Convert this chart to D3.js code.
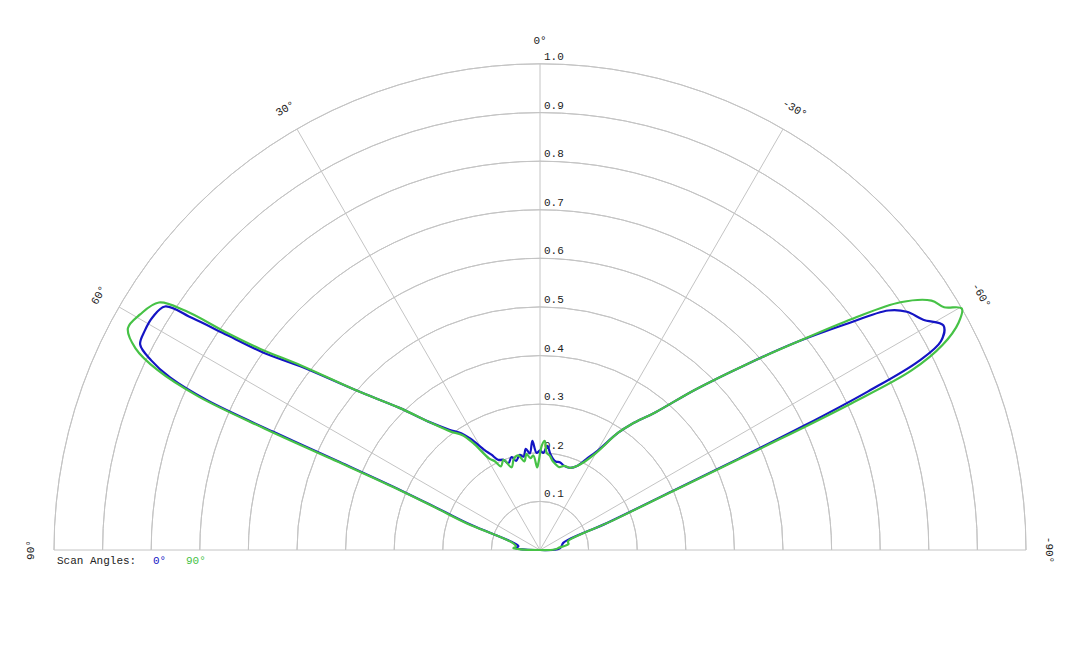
<!DOCTYPE html>
<html>
<head>
<meta charset="utf-8">
<script src="https://cdn.jsdelivr.net/npm/d3@7"></script>
<style>
  body { margin: 0; background: #fff; }
  text { font-family: "Liberation Mono", "DejaVu Sans Mono", monospace; font-size: 11px; fill: #222; }
</style>
</head>
<body>
<svg id="chart" width="1080" height="648"></svg>
<script>
// angles in degrees (0 = up, positive = left), radius 0..1
const ringValues = [0.1, 0.2, 0.3, 0.4, 0.5, 0.6, 0.7, 0.8, 0.9, 1.0];
const spokeAngles = [90, 60, 30, 0, -30, -60, -90];
const seriesNames = ['0°', '90°'];
const seriesColors = ['#1414c4', '#46c246'];

const blueAngles = [90,88,86,80,74,70,68,66.8,66.3,66.1,65.8,65,64,62.8,61,59,57,56.3,55.5,54.5,52.5,49,44.6,41,37,34,32,29,27,25,22,20,17,15,12,10,8,6,4,2,0,-2,-4,-6,-8,-10,-13,-16,-20,-24,-27,-30,-33.7,-36,-40,-44.1,-48,-51,-53.5,-55.5,-57,-59,-60.9,-62.5,-63.5,-64.2,-64.8,-65.3,-66,-68,-73,-80,-86,-89,-90];
const blueValues = [0,0.03,0.05,0.045,0.06,0.15,0.22,0.31,0.45,0.6,0.75,0.84,0.89,0.925,0.93,0.93,0.92,0.86,0.78,0.7,0.62,0.5,0.41,0.35,0.31,0.29,0.27,0.235,0.22,0.205,0.2,0.19,0.2,0.19,0.2,0.195,0.21,0.2,0.225,0.2,0.205,0.2,0.215,0.2,0.19,0.185,0.185,0.18,0.18,0.19,0.21,0.235,0.29,0.32,0.37,0.46,0.57,0.68,0.78,0.87,0.9,0.92,0.95,0.93,0.87,0.75,0.6,0.45,0.3,0.15,0.05,0.045,0.04,0.03,0];

const greenAngles = [90,88,86,82,75,70,68,66.8,66.4,66.2,65.8,64.8,63.5,61.7,59.5,57,56,55.3,54.3,52.3,49,44.6,41,37,34,32,29,27,25,22,19,16,13,10,8,6,4,2,1,-1,-2.5,-4,-6,-8,-10,-13,-16,-20,-24,-27,-30,-33.7,-36,-40,-44.1,-48,-51,-53.5,-55.5,-57.5,-59,-60.2,-61.5,-63,-64.2,-64.8,-65.3,-66,-68,-73,-78,-83,-88,-90];
const greenValues = [0,0.04,0.055,0.05,0.06,0.16,0.23,0.33,0.47,0.62,0.77,0.87,0.93,0.963,0.955,0.935,0.88,0.79,0.71,0.62,0.5,0.41,0.35,0.305,0.285,0.26,0.215,0.205,0.19,0.2,0.18,0.195,0.2,0.185,0.2,0.19,0.195,0.17,0.18,0.215,0.225,0.2,0.195,0.185,0.18,0.175,0.18,0.18,0.19,0.205,0.23,0.29,0.32,0.37,0.46,0.57,0.68,0.8,0.9,0.955,0.97,1.0,0.98,0.93,0.85,0.7,0.5,0.32,0.16,0.06,0.06,0.04,0.03,0];

const cx = 540, cy = 550, R = 486;
const svg = d3.select('#chart');
const r = d3.scaleLinear().domain([0, 1]).range([0, R]);
const toRad = a => -a * Math.PI / 180;
const g = svg.append('g').attr('transform', `translate(${cx},${cy})`);

// rings
const arc = d3.arc().innerRadius(d => r(d)).outerRadius(d => r(d))
    .startAngle(-Math.PI / 2).endAngle(Math.PI / 2);
g.selectAll('.ring').data(ringValues).enter().append('path')
    .attr('d', arc).attr('fill', 'none').attr('stroke', '#c4c4c4').attr('stroke-width', 1);

// spokes
g.selectAll('.spoke').data(spokeAngles).enter().append('line')
    .attr('x1', 0).attr('y1', 0)
    .attr('x2', d => r(1) * Math.sin(toRad(d)))
    .attr('y2', d => -r(1) * Math.cos(toRad(d)))
    .attr('stroke', '#c4c4c4').attr('stroke-width', 1);

// ring labels
g.selectAll('.rlab').data(ringValues).enter().append('text')
    .attr('x', 4).attr('y', d => -r(d) - 4)
    .text(d => d.toFixed(1));

// angle labels
g.selectAll('.alab').data(spokeAngles).enter().append('text')
    .attr('text-anchor', 'middle')
    .attr('transform', d => {
        const rr = r(1) + 24, a = toRad(d);
        return `translate(${rr * Math.sin(a)},${-rr * Math.cos(a)}) rotate(${-d})`;
    })
    .attr('dy', '0.35em')
    .text(d => d + '°');

// curves
const line = d3.lineRadial().angle(d => toRad(d[0])).radius(d => r(d[1])).curve(d3.curveCatmullRom);
const series = [d3.zip(blueAngles, blueValues), d3.zip(greenAngles, greenValues)];
g.selectAll('.series').data(series).enter().append('path')
    .attr('d', line).attr('fill', 'none')
    .attr('stroke', (d, i) => seriesColors[i]).attr('stroke-width', 2.2)
    .attr('stroke-linejoin', 'round');

// legend
const leg = svg.append('text').attr('x', 57).attr('y', 564);
leg.append('tspan').text('Scan Angles:');
seriesNames.forEach((n, i) => {
    leg.append('tspan').attr('x', [153, 186][i]).style('fill', seriesColors[i]).text(n);
});
</script>
</body>
</html>
